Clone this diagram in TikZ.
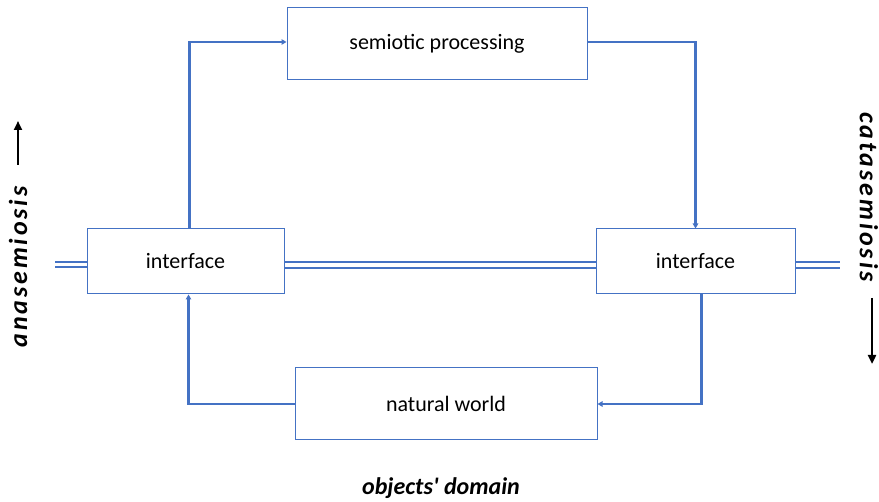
\documentclass[tikz,border=0pt]{standalone}
\usepackage{fontspec}
\setmainfont{Carlito}
\usetikzlibrary{arrows.meta}
\definecolor{linkblue}{HTML}{4472C4}
\begin{document}
\begin{tikzpicture}[x=1pt,y=-1pt,
  box/.style={draw=linkblue, line width=1pt, fill=white, inner sep=0pt, font=\fontsize{22}{26}\selectfont},
  link/.style={draw=linkblue, line width=2.2pt, -{Triangle[length=5pt,width=5.5pt]}},
  dbl/.style={draw=linkblue, line width=1.9pt, double=white, double distance=3.6pt},
  side/.style={font=\fontsize{26}{30}\selectfont\bfseries\itshape\addfontfeatures{LetterSpace=11}},
  dirarrow/.style={draw=black, line width=2.4pt, -{Triangle[length=9pt,width=8pt]}}]
\useasboundingbox (0,0) rectangle (879,502);
% double channel lines behind the boxes
\coordinate (lend) at (55,264.5);
\coordinate (rend) at (840,265);
\draw[dbl] (lend) -- (87,264.5);
\draw[dbl] (284,265) -- (596,265);
\draw[dbl] (795,265) -- (rend);
% boxes
\node[box, minimum width=300pt, minimum height=72pt] (sem) at (437,44) {semiotic processing};
\node[box, minimum width=197pt, minimum height=65pt] (ifl) at (185.5,261.5) {interface};
\node[box, minimum width=199pt, minimum height=65pt] (ifr) at (695.5,261.5) {interface};
\node[box, minimum width=302pt, minimum height=72pt] (nat) at (446,404) {natural world};
% flow connectors
\draw[link] ([xshift=4pt]ifl.north) |- ([yshift=2pt]sem.west);
\draw[link] ([yshift=2pt]sem.east) -| (ifr.north);
\draw[link] ([xshift=6pt]ifr.south) |- (nat.east);
\draw[link] (nat.west) -| ([xshift=3pt]ifl.south);
% side labels
\node[side, rotate=90] (ana) at (18,267) {anasemiosis};
\coordinate (anaA) at (18,165);
\coordinate (anaB) at (18,121);
\draw[dirarrow] (anaA) -- (anaB);
\node[side, rotate=-90] (cata) at (869,197) {catasemiosis};
\coordinate (cataA) at (872,298);
\coordinate (cataB) at (872,364);
\draw[dirarrow] (cataA) -- (cataB);
\node[font=\fontsize{24}{28}\selectfont\bfseries\itshape] (dom) at (441,488) {objects\textquotesingle{} domain};
\end{tikzpicture}
\end{document}
